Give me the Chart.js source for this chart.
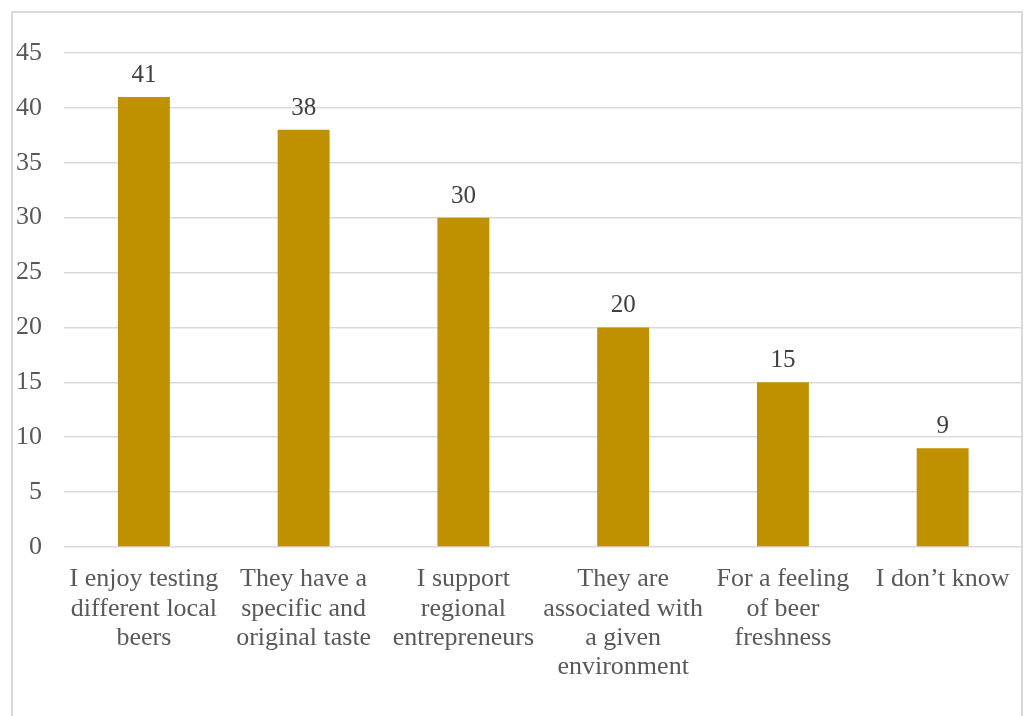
<!DOCTYPE html>
<html>
<head>
<meta charset="utf-8">
<script src="https://cdn.jsdelivr.net/npm/chart.js@4/dist/chart.umd.min.js"></script>
<style>
  html, body { margin: 0; padding: 0; background: #fff; }
  #frame {
    position: absolute; left: 11px; top: 11px;
    width: 1012px; height: 740px;
    border: 2px solid #d9d9d9;
    box-sizing: border-box;
  }
  #chart { position: absolute; left: 0; top: 0; }
</style>
</head>
<body>
<div id="frame"></div>
<canvas id="chart" width="1028" height="716"></canvas>
<script>
// categorias (rótulos em várias linhas)
const categories = [
  ["I enjoy testing", "different local", "beers"],
  ["They have a", "specific and", "original taste"],
  ["I support", "regional", "entrepreneurs"],
  ["They are", "associated with", "a given", "environment"],
  ["For a feeling", "of beer", "freshness"],
  ["I don\u2019t know"]
];
const values = [41, 38, 30, 20, 15, 9];
const yTicks = [0, 5, 10, 15, 20, 25, 30, 35, 40, 45];

const fonte = "'Liberation Serif', 'Times New Roman', serif";

// rótulos de valor acima das barras
const valueLabels = {
  id: "valueLabels",
  afterDatasetsDraw(chart) {
    const ctx = chart.ctx;
    const meta = chart.getDatasetMeta(0);
    ctx.save();
    ctx.font = "25px " + fonte;
    ctx.fillStyle = "#404040";
    ctx.textAlign = "center";
    ctx.textBaseline = "alphabetic";
    meta.data.forEach((bar, i) => {
      ctx.fillText(String(values[i]), bar.x, bar.y - 15);
    });
    ctx.restore();
  }
};

const ctx = document.getElementById("chart").getContext("2d");
new Chart(ctx, {
  type: "bar",
  data: {
    labels: categories,
    datasets: [{
      data: values,
      backgroundColor: "#BF9000",
      categoryPercentage: 1,
      barPercentage: 0.325
    }]
  },
  options: {
    responsive: false,
    animation: false,
    layout: { padding: { top: 53, right: 5, left: 0, bottom: 0 } },
    plugins: {
      legend: { display: false },
      tooltip: { enabled: false }
    },
    scales: {
      x: {
        grid: { display: false, drawTicks: false },
        border: { display: false },
        ticks: {
          color: "#595959",
          font: { family: fonte, size: 26, lineHeight: 1.12 },
          padding: 18,
          autoSkip: false,
          maxRotation: 0
        },
        afterFit(scale) { scale.height = 169; }
      },
      y: {
        min: 0,
        max: 45,
        afterBuildTicks(scale) { scale.ticks = yTicks.map(v => ({ value: v })); },
        grid: { color: "#d9d9d9", lineWidth: 1.5, drawTicks: false },
        border: { display: false },
        ticks: {
          color: "#595959",
          font: { family: fonte, size: 26 },
          padding: 22
        },
        afterFit(scale) { scale.width = 64; }
      }
    }
  },
  plugins: [valueLabels]
});
</script>
</body>
</html>
